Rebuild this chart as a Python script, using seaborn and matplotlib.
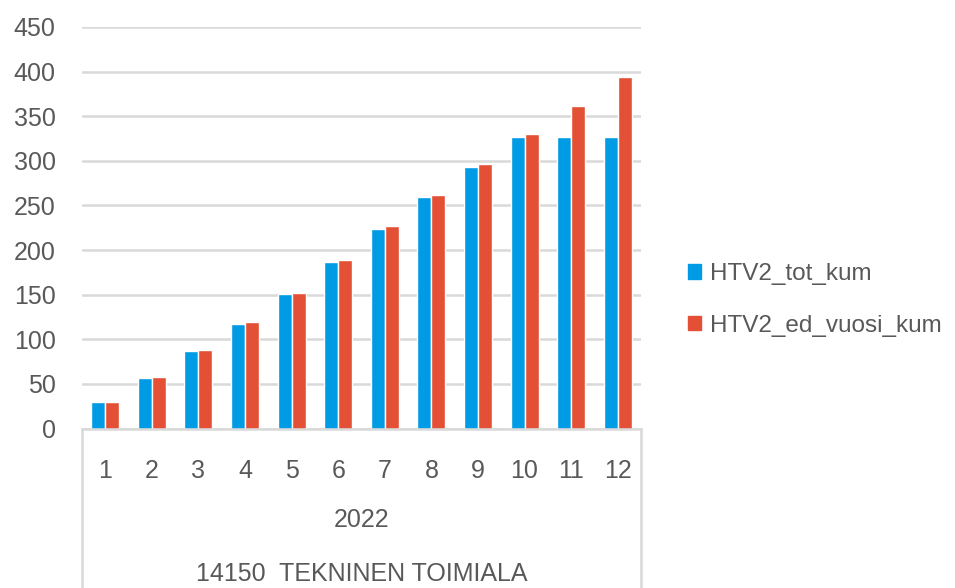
import matplotlib
matplotlib.use("Agg")
import matplotlib.pyplot as plt
import seaborn as sns
import pandas as pd

sns.set_theme(style="white")
plt.rcParams['font.family'] = ['Liberation Sans', 'DejaVu Sans']

months = ["1", "2", "3", "4", "5", "6", "7", "8", "9", "10", "11", "12"]
tot_kum = [30, 57, 87, 117, 151, 187, 224, 260, 293, 327, 327, 327]
ed_vuosi_kum = [30, 58, 88, 119, 152, 189, 227, 262, 296, 330, 362, 394]
series = ["HTV2_tot_kum", "HTV2_ed_vuosi_kum"]
year_label = "2022"
unit_label = "14150  TEKNINEN TOIMIALA"

txt = "#595959"
grid = "#d9d9d9"
palette = {"HTV2_tot_kum": "#009be5", "HTV2_ed_vuosi_kum": "#e45036"}

df = pd.DataFrame({
    "kk": months * 2,
    "arvo": tot_kum + ed_vuosi_kum,
    "sarja": [series[0]] * 12 + [series[1]] * 12,
})

fig = plt.figure(figsize=(9.55, 5.88), dpi=100)
ax = fig.add_axes([82 / 955, 1 - 428.5 / 588, (641 - 82) / 955, (428.5 - 27) / 588])

sns.barplot(data=df, x="kk", y="arvo", hue="sarja", palette=palette,
            width=0.6, gap=0, ax=ax, legend=False, saturation=1)

ax.set_xlim(-0.5, 11.5)
ax.set_ylim(0, 450)
ax.set_yticks(range(0, 451, 50))
ax.yaxis.grid(True, color=grid, linewidth=1.8)
ax.set_axisbelow(True)
for s in ["top", "right", "left"]:
    ax.spines[s].set_visible(False)
ax.spines["bottom"].set_color(grid)
ax.spines["bottom"].set_linewidth(1.8)
ax.set_xlabel("")
ax.set_ylabel("")
ax.tick_params(axis="y", length=0, pad=19, labelsize=18, labelcolor=txt)
ax.tick_params(axis="x", length=0, pad=22, labelsize=18, labelcolor=txt)

# category box below the axis
depth = (588 - 428.5) / (428.5 - 27)
for xx in (0, 1):
    ax.plot([xx, xx], [0, -depth], transform=ax.transAxes, color=grid,
            linewidth=1.8, clip_on=False)
ax.text(0.5, -(520 - 428.5) / (428.5 - 27), year_label, transform=ax.transAxes,
        ha="center", va="center", fontsize=18, color=txt)
ax.text(0.5, -(574 - 428.5) / (428.5 - 27), unit_label, transform=ax.transAxes,
        ha="center", va="center", fontsize=18, color=txt)

handles = [plt.Rectangle((0, 0), 1, 1, color=palette[s]) for s in series]
fig.legend(handles, series, loc="center left", bbox_to_anchor=(666 / 955, 1 - 300 / 588),
           frameon=False, fontsize=17.5, labelcolor=txt, handlelength=0.55,
           handleheight=0.55, handletextpad=0.35, labelspacing=1.2)

fig.savefig("out.png", dpi=100)
